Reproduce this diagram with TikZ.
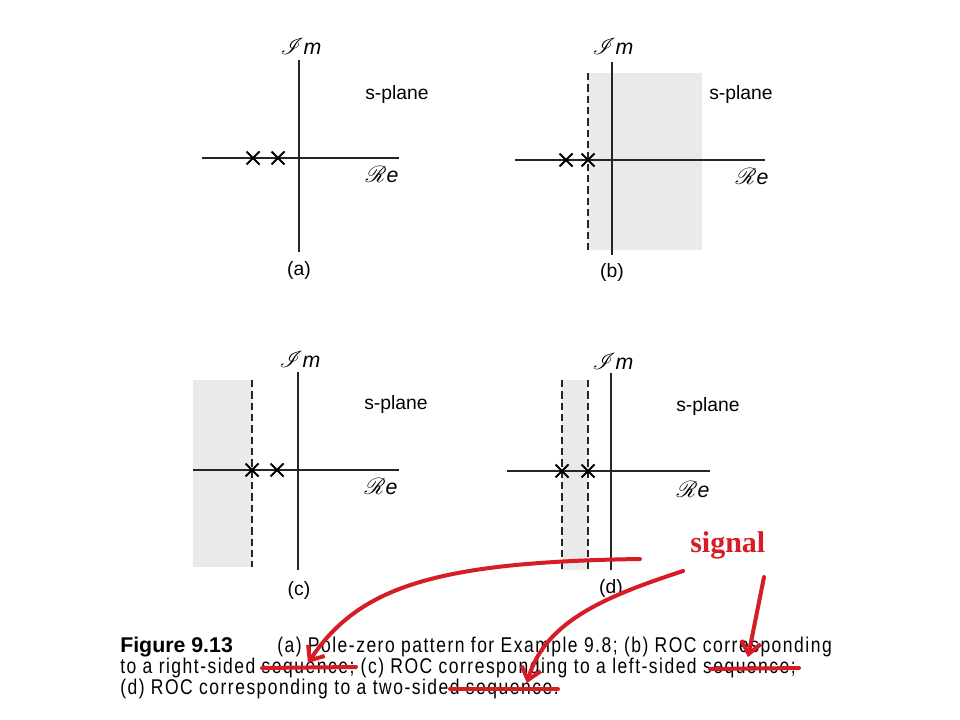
\documentclass[tikz,border=0pt]{standalone}
\usepackage{fontspec}
\usepackage{mathrsfs}
\usetikzlibrary{arrows.meta}
\setmainfont{Liberation Sans}
\newfontfamily\capfont[FakeStretch=0.82,LetterSpace=7.0]{Liberation Sans}
\newfontfamily\sigfont{Liberation Serif}
\definecolor{annred}{RGB}{214,28,36}
\definecolor{roc}{RGB}{234,234,234}
\tikzset{
  axis/.style={line width=1pt,black!85},
  bound/.style={line width=1.1pt,black!85,dash pattern=on 5.5pt off 3pt},
  shade/.style={fill=roc,draw=none},
  pole/.style={line width=1.5pt,black},
  lbl/.style={inner sep=0pt,font=\fontsize{14.5pt}{16pt}\selectfont},
  axlbl/.style={inner sep=0pt,font=\fontsize{16pt}{18pt}\selectfont},
  capline/.style={inner sep=0pt,anchor=base west,font=\capfont\fontsize{16pt}{17pt}\selectfont},
  redpen/.style={annred,line width=3pt,line cap=round},
  redarrow/.style={redpen,-{Straight Barb[length=9pt,width=15pt,line width=3pt]}},
}
\newcommand{\polemark}[2]{\draw[pole] (#1-6.5,#2-6.5) -- (#1+6.5,#2+6.5) (#1-6.5,#2+6.5) -- (#1+6.5,#2-6.5);}
\newcommand{\ImLbl}{$\mathscr{I}\mathit{m}$}
\newcommand{\ReLbl}{$\mathscr{R}\mathit{e}$}
\begin{document}
\begin{tikzpicture}[x=0.75pt,y=-0.75pt]
\useasboundingbox (0,0) rectangle (960,720);
\fill[white] (0,0) rectangle (960,720);

% ---------- panel (a)
\draw[axis] (299,60) -- (299,252);
\draw[axis] (202,158) -- (399,158);
\polemark{253}{158}
\polemark{278}{158}
\node[axlbl] (ima) at (301,46) {\ImLbl};
\node[lbl] (spa) at (397,95) {s-plane};
\node[axlbl] (rea) at (382,175) {\ReLbl};
\node[lbl] (cap a) at (299,270) {(a)};

% ---------- panel (b)
\fill[shade] (588,73) rectangle (702,250);
\draw[bound] (588,73) -- (588,250);
\draw[axis] (612,62) -- (612,255);
\draw[axis] (515,160) -- (765,160);
\polemark{566}{160}
\polemark{588}{160}
\node[axlbl] (imb) at (613,46) {\ImLbl};
\node[lbl] (spb) at (741,95) {s-plane};
\node[axlbl] (reb) at (752,177) {\ReLbl};
\node[lbl] (cap b) at (612,272) {(b)};

% ---------- panel (c)
\fill[shade] (193,380) rectangle (252,567);
\draw[bound] (252,380) -- (252,567);
\draw[axis] (298,372) -- (298,570);
\draw[axis] (193,470) -- (399,470);
\polemark{252}{470}
\polemark{277}{470}
\node[axlbl] (imc) at (300,359) {\ImLbl};
\node[lbl] (spc) at (396,405) {s-plane};
\node[axlbl] (rec) at (381,487) {\ReLbl};
\node[lbl] (cap c) at (299,590) {(c)};

% ---------- panel (d)
\fill[shade] (562,380) rectangle (588,570);
\draw[bound] (562,380) -- (562,570);
\draw[bound] (588,380) -- (588,570);
\draw[axis] (611,373) -- (611,570);
\draw[axis] (507,471) -- (710,471);
\polemark{562}{471}
\polemark{588}{471}
\node[axlbl] (imd) at (613,361) {\ImLbl};
\node[lbl] (spd) at (708,407) {s-plane};
\node[axlbl] (red) at (693,490) {\ReLbl};
\node[lbl] (cap d) at (611,588) {(d)};

% ---------- caption
\node[inner sep=0pt,anchor=base west,font=\bfseries\fontsize{16pt}{17pt}\selectfont] (fig) at (120,652) {Figure 9.13};
\node[capline] (l1) at (277,652) {(a) Pole-zero pattern for Example 9.8; (b) ROC corresponding};
\node[capline] (l2) at (120,673) {to a right-sided sequence; (c) ROC corresponding to a left-sided sequence;};
\node[capline] (l3) at (120,694) {(d) ROC corresponding to a two-sided sequence.};

% ---------- red annotations
\node[inner sep=0pt,anchor=base west,text=annred,font=\sigfont\bfseries\fontsize{22.5pt}{24pt}\selectfont] (sig) at (690,552) {signal};
\draw[redpen] (262,668) -- (356,667);
\draw[redpen] (710,669) -- (799,668);
\draw[redpen] (450,689) -- (558,689);
\coordinate (a1) at (640,559);
\coordinate (a2) at (308,663);
\coordinate (b1) at (683,571);
\coordinate (b2) at (527,683);
\coordinate (c1) at (764,577);
\coordinate (c2) at (748,657);
\draw[redarrow] (a1) .. controls (440,562) and (360,585) .. (a2);
\draw[redarrow] (b1) .. controls (610,595) and (545,620) .. (b2);
\draw[redarrow] (c1) -- (c2);
\end{tikzpicture}
\end{document}
